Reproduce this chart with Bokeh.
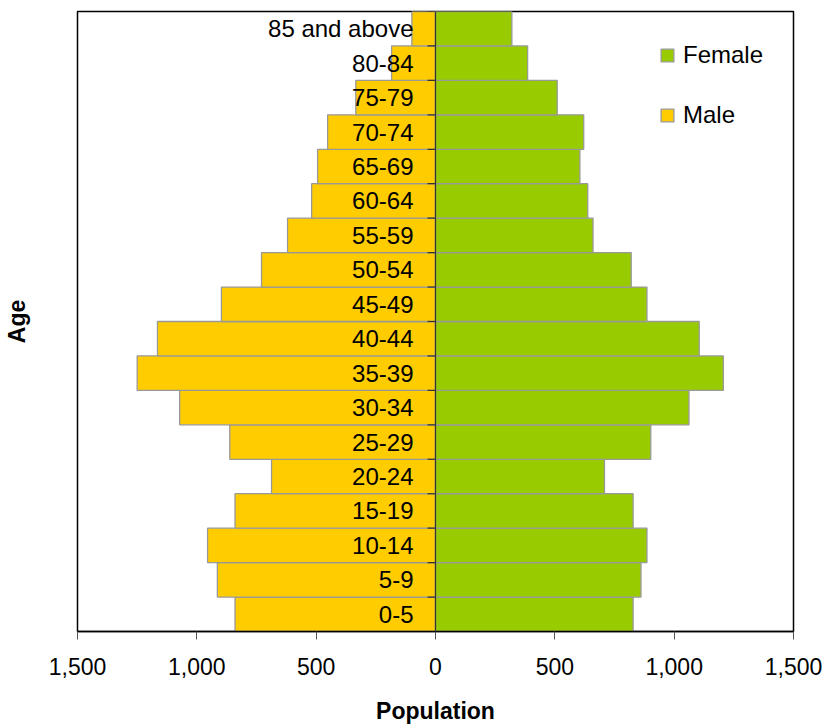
import numpy as np
from bokeh.plotting import figure
from bokeh.models import (ColumnDataSource, Range1d, FixedTicker, Span, Legend,
                          LegendItem)
from bokeh.core.properties import value
from bokeh.embed import file_html
from bokeh.resources import INLINE

# ---- data ----
age_groups = ["0-5", "5-9", "10-14", "15-19", "20-24", "25-29", "30-34", "35-39",
              "40-44", "45-49", "50-54", "55-59", "60-64", "65-69", "70-74",
              "75-79", "80-84", "85 and above"]
male = [840, 914, 955, 840, 687, 862, 1072, 1250, 1165, 897, 729, 620, 519,
        494, 452, 334, 184, 99]
female = [828, 861, 886, 828, 708, 902, 1062, 1206, 1105, 886, 820, 660, 638,
          605, 621, 510, 386, 320]
x_ticks = [-1500, -1000, -500, 0, 500, 1000, 1500]

MALE_COLOR = "#FFCC00"
FEMALE_COLOR = "#99CC00"
EDGE = "#999999"
FONT = "Liberation Sans"

n = len(age_groups)
ypos = np.arange(n) + 0.5
src = ColumnDataSource(dict(
    y=ypos,
    male_left=[-v for v in male],
    female_right=female,
    label=age_groups,
))

p = figure(width=826, height=726, output_backend="svg", toolbar_location=None,
           x_range=Range1d(-1500, 1500), y_range=Range1d(0, n),
           min_border_left=77, min_border_right=33, min_border_top=11,
           min_border_bottom=93)
p.grid.visible = False
p.background_fill_color = "white"
p.border_fill_color = "white"
p.outline_line_color = "black"
p.outline_line_width = 1.5

male_r = p.hbar(y="y", left="male_left", right=0, height=1, source=src,
                fill_color=MALE_COLOR, line_color=EDGE, line_width=1.3)
female_r = p.hbar(y="y", left=0, right="female_right", height=1, source=src,
                  fill_color=FEMALE_COLOR, line_color=EDGE, line_width=1.3)

# central axis line with small ticks at category boundaries
p.add_layout(Span(location=0, dimension="height", line_color="#333333",
                  line_width=1.2))
p.ray(x=0, y=np.arange(n + 1), length=8, angle=np.pi, length_units="screen",
      line_color="#333333", line_width=1.2)

# category labels next to the central axis
p.text(x=0, y="y", text="label", source=src, x_offset=-22,
       text_align="right", text_baseline="middle",
       text_font=value(FONT), text_font_size="24px", text_color="black")

# x axis
xa = p.xaxis[0]
xa.ticker = FixedTicker(ticks=x_ticks)
xa.major_label_overrides = {t: f"{abs(t):,}" for t in x_ticks}
xa.major_tick_out = 8
xa.major_tick_in = 0
xa.minor_tick_out = 0
xa.minor_tick_in = 0
xa.major_tick_line_color = "#555555"
xa.axis_line_color = "black"
xa.axis_line_width = 1.5
xa.major_label_standoff = 18
xa.major_label_text_font = FONT
xa.major_label_text_font_size = "23px"
xa.major_label_text_color = "black"
xa.axis_label = "Population"
xa.axis_label_text_font = FONT
xa.axis_label_text_font_size = "23px"
xa.axis_label_text_font_style = "bold"
xa.axis_label_text_color = "black"
xa.axis_label_standoff = 20

# y axis: only the title
ya = p.yaxis[0]
ya.ticker = FixedTicker(ticks=[])
ya.axis_line_color = None
ya.major_tick_line_color = None
ya.minor_tick_line_color = None
ya.major_tick_out = 0
ya.major_tick_in = 0
ya.minor_tick_out = 0
ya.minor_tick_in = 0
ya.major_label_standoff = 0
ya.axis_label = "Age"
ya.axis_label_text_font = FONT
ya.axis_label_text_font_size = "23px"
ya.axis_label_text_font_style = "bold"
ya.axis_label_text_color = "black"
ya.axis_label_standoff = 48

legend = Legend(items=[LegendItem(label="Female", renderers=[female_r]),
                       LegendItem(label="Male", renderers=[male_r])],
                location=(582, 501), orientation="vertical",
                border_line_color=None, background_fill_alpha=0,
                padding=0, margin=0, glyph_width=16, glyph_height=16,
                label_height=30, spacing=30, label_standoff=8,
                label_text_font=FONT, label_text_font_size="24px",
                label_text_color="black")
p.add_layout(legend, "center")

open("out.html", "w").write(file_html(p, INLINE))
